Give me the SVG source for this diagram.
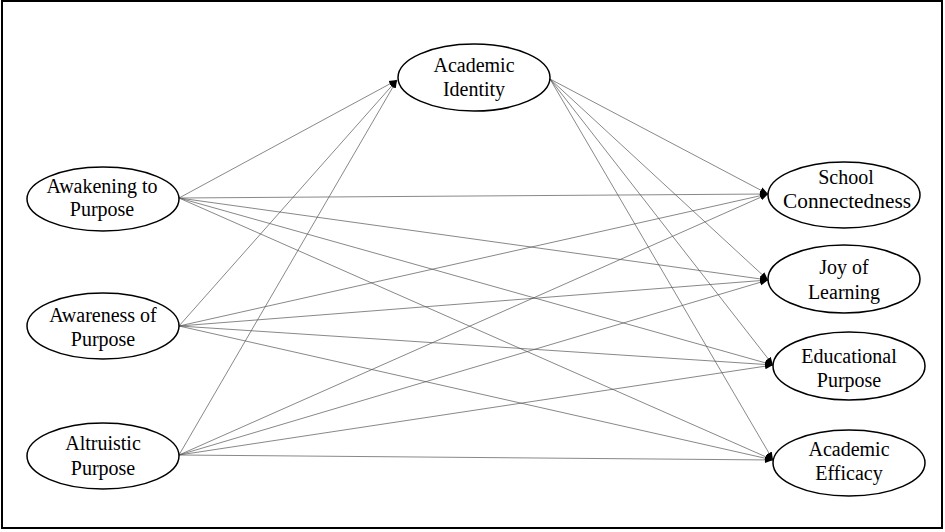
<svg xmlns="http://www.w3.org/2000/svg" width="945" height="532" viewBox="0 0 945 532">
<style>
.n{fill:#fff;stroke:#000;stroke-width:1.5}
.t{font-family:"Liberation Serif","Times New Roman",serif;font-size:20px;fill:#000;text-anchor:middle}
.e{stroke:#555;stroke-width:0.7;fill:none;marker-end:url(#ah)}
</style>
<defs>
<marker id="ah" viewBox="0 0 10 10" refX="10" refY="5" markerWidth="8" markerHeight="8" markerUnits="userSpaceOnUse" orient="auto">
<path d="M0,1 L10,5 L0,9 Z" fill="#000"/>
</marker>
</defs>
<rect x="2" y="1" width="940" height="527" fill="#fff" stroke="#000" stroke-width="2"/>
<g id="connectors">
<line class="e" x1="179" y1="198" x2="397" y2="80"/>
<line class="e" x1="179" y1="326" x2="397" y2="80"/>
<line class="e" x1="179" y1="455" x2="397" y2="80"/>
<line class="e" x1="179" y1="198" x2="768" y2="194"/>
<line class="e" x1="179" y1="198" x2="768" y2="280"/>
<line class="e" x1="179" y1="198" x2="773" y2="365"/>
<line class="e" x1="179" y1="198" x2="773" y2="460"/>
<line class="e" x1="179" y1="326" x2="768" y2="194"/>
<line class="e" x1="179" y1="326" x2="768" y2="280"/>
<line class="e" x1="179" y1="326" x2="773" y2="365"/>
<line class="e" x1="179" y1="326" x2="773" y2="460"/>
<line class="e" x1="179" y1="455" x2="768" y2="194"/>
<line class="e" x1="179" y1="455" x2="768" y2="280"/>
<line class="e" x1="179" y1="455" x2="773" y2="365"/>
<line class="e" x1="179" y1="455" x2="773" y2="460"/>
<line class="e" x1="550" y1="79" x2="768" y2="194"/>
<line class="e" x1="550" y1="79" x2="768" y2="280"/>
<line class="e" x1="550" y1="79" x2="773" y2="365"/>
<line class="e" x1="550" y1="79" x2="773" y2="460"/>
</g>
<g id="academic-identity">
<ellipse class="n" cx="474" cy="77.5" rx="76" ry="33.5"/>
<text class="t" x="474" y="72">Academic</text>
<text class="t" x="474" y="96">Identity</text>
</g>
<g id="awakening">
<ellipse class="n" cx="103" cy="199" rx="76" ry="32"/>
<text class="t" x="102" y="193">Awakening to</text>
<text class="t" x="102" y="216">Purpose</text>
</g>
<g id="awareness">
<ellipse class="n" cx="103" cy="326" rx="76" ry="33"/>
<text class="t" x="103" y="322">Awareness of</text>
<text class="t" x="103" y="346">Purpose</text>
</g>
<g id="altruistic">
<ellipse class="n" cx="103" cy="456" rx="76" ry="33"/>
<text class="t" x="103" y="450">Altruistic</text>
<text class="t" x="103" y="475">Purpose</text>
</g>
<g id="school-connectedness">
<ellipse class="n" cx="844" cy="195" rx="76" ry="33"/>
<text class="t" x="846" y="184">School</text>
<text class="t" x="847" y="208" textLength="128" lengthAdjust="spacingAndGlyphs">Connectedness</text>
</g>
<g id="joy-of-learning">
<ellipse class="n" cx="844" cy="279" rx="76" ry="34"/>
<text class="t" x="844" y="274">Joy of</text>
<text class="t" x="844" y="299">Learning</text>
</g>
<g id="educational-purpose">
<ellipse class="n" cx="849" cy="366" rx="76" ry="34"/>
<text class="t" x="849" y="363">Educational</text>
<text class="t" x="849" y="387">Purpose</text>
</g>
<g id="academic-efficacy">
<ellipse class="n" cx="849" cy="463" rx="76" ry="33"/>
<text class="t" x="849" y="456">Academic</text>
<text class="t" x="849" y="480">Efficacy</text>
</g>
</svg>
